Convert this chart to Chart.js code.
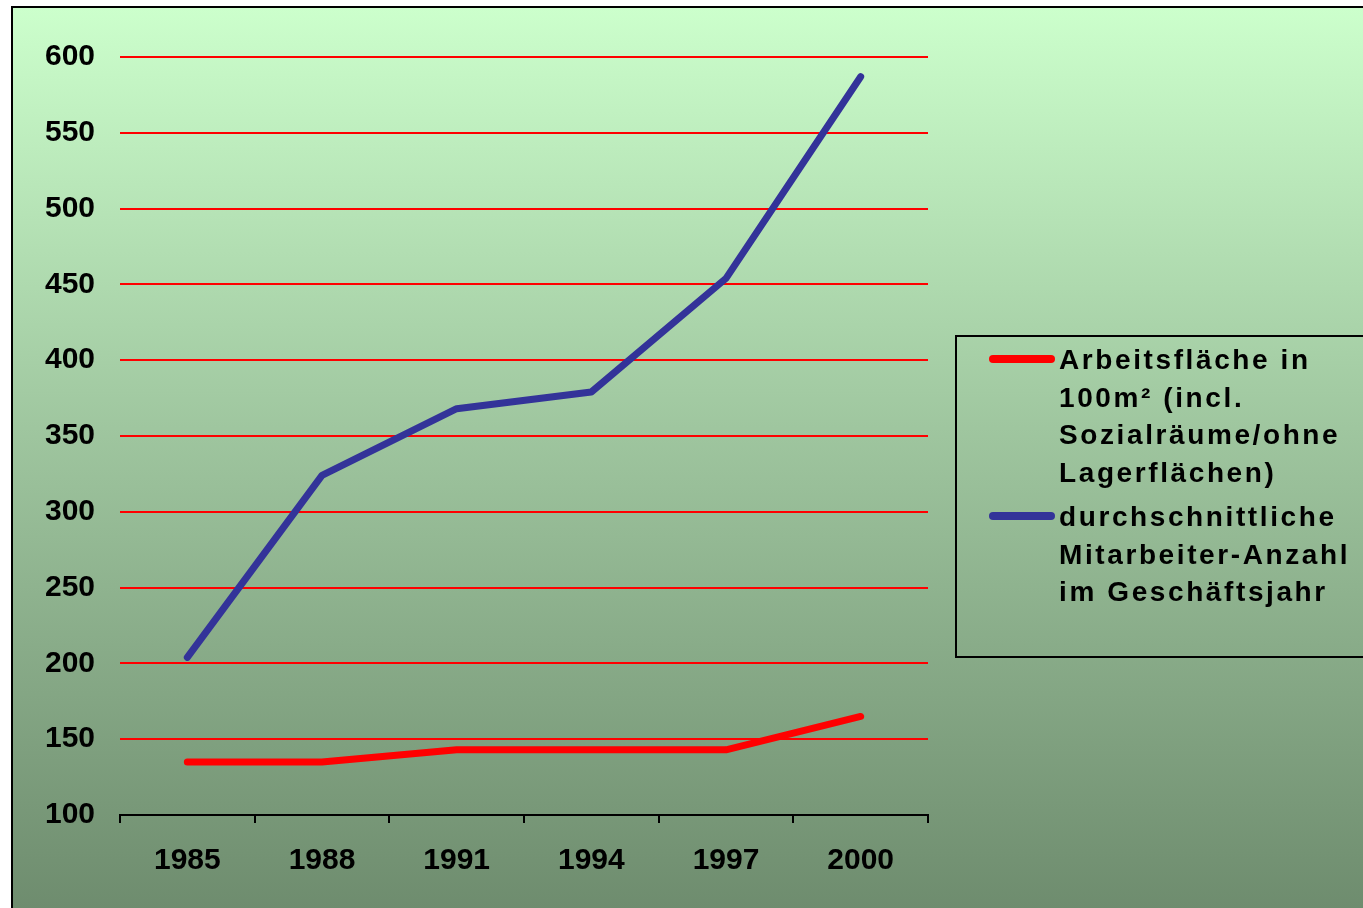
<!DOCTYPE html>
<html>
<head>
<meta charset="utf-8">
<script src="https://cdn.jsdelivr.net/npm/chart.js@4/dist/chart.umd.min.js"></script>
<style>
  html, body { margin: 0; padding: 0; width: 1363px; height: 908px; overflow: hidden; background: #ffffff; }
  #frame {
    position: absolute; left: 11px; top: 6px; width: 1400px; height: 960px;
    border: 2px solid #000; box-sizing: border-box;
    background: linear-gradient(to bottom, #ccffcc 0px, #9fc69f 420px, #6e8c6e 902px, #6a876a 960px);
  }
  #wrap { position: absolute; left: 0; top: 0; width: 1363px; height: 908px; }
  #legend {
    position: absolute; left: 955px; top: 335px; width: 460px; height: 323px;
    border: 2px solid #000; box-sizing: border-box;
    font-family: "Liberation Sans", Arial, sans-serif; font-weight: bold;
    font-size: 28px; letter-spacing: 2.6px; line-height: 37.5px; color: #000;
  }
  .item { position: absolute; left: 0; }
  .swatch { position: absolute; left: 32px; width: 66px; height: 8px; border-radius: 4px; }
  .text { position: absolute; left: 102px; white-space: nowrap; }
</style>
</head>
<body>
<div id="frame"></div>
<div id="wrap"><canvas id="c" width="1363" height="908"></canvas></div>
<div id="legend"></div>
<script>
const years = ['1985', '1988', '1991', '1994', '1997', '2000'];
const arbeitsflaeche = [135, 135, 143, 143, 143, 165];
const mitarbeiter = [204, 324, 368, 379, 454, 587];
const yTicks = [100, 150, 200, 250, 300, 350, 400, 450, 500, 550, 600];
const labelArbeit = ['Arbeitsfläche in', '100m² (incl.', 'Sozialräume/ohne', 'Lagerflächen)'];
const labelMitarb = ['durchschnittliche', 'Mitarbeiter-Anzahl', 'im Geschäftsjahr'];

const tickFont = { family: '"Liberation Sans", Arial, sans-serif', weight: 'bold', size: 30 };

const chart = new Chart(document.getElementById('c'), {
  type: 'line',
  data: {
    labels: years,
    datasets: [
      { label: labelArbeit.join(' '), lines: labelArbeit, data: arbeitsflaeche,
        borderColor: '#ff0000', backgroundColor: '#ff0000', borderWidth: 7,
        pointRadius: 0, tension: 0, borderCapStyle: 'round', borderJoinStyle: 'round' },
      { label: labelMitarb.join(' '), lines: labelMitarb, data: mitarbeiter,
        borderColor: '#333399', backgroundColor: '#333399', borderWidth: 7,
        pointRadius: 0, tension: 0, borderCapStyle: 'round', borderJoinStyle: 'round' }
    ]
  },
  options: {
    responsive: false,
    animation: false,
    events: [],
    layout: { padding: { left: 0, right: 435, top: 57, bottom: 0 } },
    plugins: { legend: { display: false }, tooltip: { enabled: false } },
    scales: {
      x: {
        offset: true,
        grid: { offset: true, drawOnChartArea: false, drawTicks: true, tickLength: 8, color: '#000', lineWidth: 2 },
        border: { display: true, color: '#000', width: 2 },
        ticks: { font: tickFont, color: '#000', padding: 20, maxRotation: 0 },
        afterFit: s => { s.height = 93; }
      },
      y: {
        min: 100, max: 600,
        afterBuildTicks: s => { s.ticks = yTicks.map(v => ({ value: v })); },
        grid: { drawTicks: false, color: c => (c.tick && c.tick.value === 100) ? 'rgba(0,0,0,0)' : '#ff0000', lineWidth: 2 },
        border: { display: false },
        ticks: { font: tickFont, color: '#000', padding: 25 },
        afterFit: s => { s.width = 120; }
      }
    }
  }
});

// HTML legend built from datasets
const legend = document.getElementById('legend');
const tops = [4, 161];
chart.data.datasets.forEach((ds, i) => {
  const item = document.createElement('div');
  item.className = 'item';
  item.style.top = tops[i] + 'px';
  const sw = document.createElement('div');
  sw.className = 'swatch';
  sw.style.background = ds.borderColor;
  sw.style.top = '14px';
  const tx = document.createElement('div');
  tx.className = 'text';
  tx.innerHTML = ds.lines.map(l => l.replace(/&/g, '&amp;')).join('<br>');
  item.appendChild(sw);
  item.appendChild(tx);
  legend.appendChild(item);
});
</script>
</body>
</html>
